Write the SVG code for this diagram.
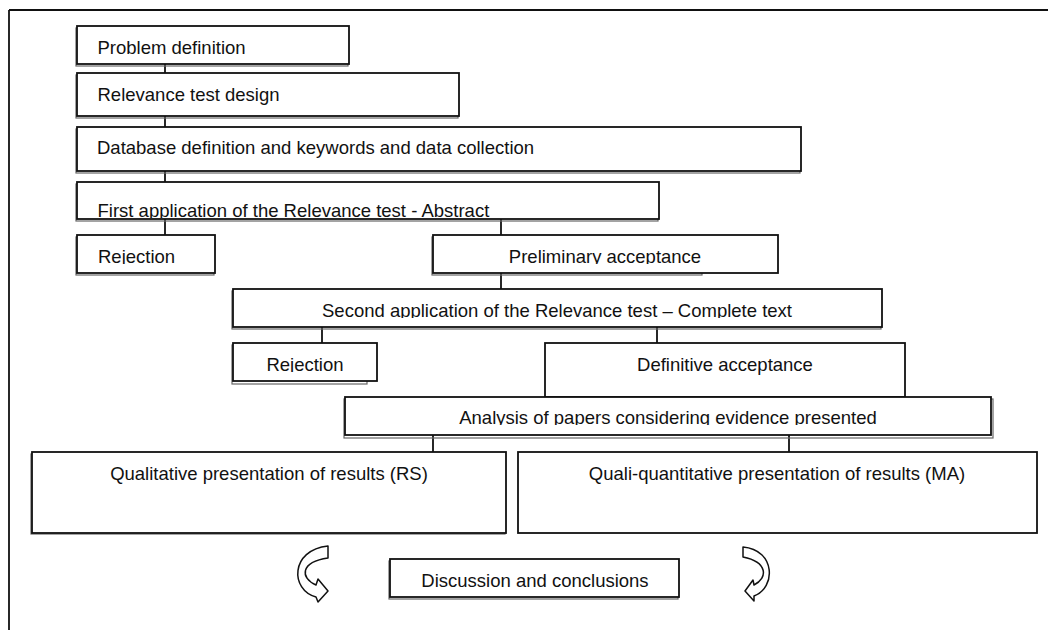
<svg xmlns="http://www.w3.org/2000/svg" width="1048" height="630" viewBox="0 0 1048 630">
<style>
.box{fill:#fff;stroke:#111;stroke-width:1.8}
.sh{fill:none;stroke:#666;stroke-width:1.2}
.t{font-family:"Liberation Sans",Arial,sans-serif;font-size:18.5px;fill:#111}
.c{text-anchor:middle}
.ln{stroke:#111;stroke-width:1.8;fill:none}
.arr{fill:#fff;stroke:#111;stroke-width:1.5;stroke-linejoin:round}
</style>
<defs>
<clipPath id="cp4"><rect x="77" y="182" width="582" height="36"/></clipPath>
<clipPath id="cpr1"><rect x="77" y="235" width="138" height="29"/></clipPath>
<clipPath id="cpp"><rect x="433" y="235" width="345" height="29"/></clipPath>
<clipPath id="cp5"><rect x="233" y="289" width="649" height="29"/></clipPath>
<clipPath id="cpr2"><rect x="233" y="343" width="144" height="29"/></clipPath>
<clipPath id="cpa"><rect x="345" y="397" width="646" height="28"/></clipPath>
</defs>
<rect width="1048" height="630" fill="#fff"/>
<g id="frame" class="ln">
<line x1="9" y1="10" x2="1048" y2="10"/>
<line x1="9" y1="10" x2="9" y2="630"/>
</g>
<g id="connectors" class="ln">
<line x1="165" y1="64" x2="165" y2="73"/>
<line x1="165" y1="116" x2="165" y2="127"/>
<line x1="165" y1="171" x2="165" y2="182"/>
<line x1="165" y1="219" x2="165" y2="235"/>
<line x1="501" y1="219" x2="501" y2="235"/>
<line x1="501" y1="273" x2="501" y2="289"/>
<line x1="322" y1="327" x2="322" y2="343"/>
<line x1="657" y1="327" x2="657" y2="343"/>
<line x1="433" y1="435" x2="433" y2="452"/>
<line x1="789" y1="435" x2="789" y2="452"/>
</g>
<g id="n1"><rect class="sh" x="76" y="28" width="272" height="38"/><rect class="box" x="77" y="26" width="272" height="38"/><text class="t" x="97.5" y="54">Problem definition</text></g>
<g id="n2"><rect class="sh" x="76" y="75" width="382" height="43"/><rect class="box" x="77" y="73" width="382" height="43"/><text class="t" x="97.5" y="101">Relevance test design</text></g>
<g id="n3"><rect class="sh" x="76" y="129" width="724" height="44"/><rect class="box" x="77" y="127" width="724" height="44"/><text class="t" x="97" y="154">Database definition and keywords and data collection</text></g>
<g id="n4"><rect class="sh" x="76" y="184" width="582" height="37"/><rect class="box" x="77" y="182" width="582" height="37"/><text class="t" x="97.5" y="217" clip-path="url(#cp4)">First application of the Relevance test - Abstract</text></g>
<g id="n5"><rect class="sh" x="76" y="237" width="138" height="38"/><rect class="box" x="77" y="235" width="138" height="38"/><text class="t" x="98" y="263" clip-path="url(#cpr1)">Rejection</text></g>
<g id="n6"><rect class="sh" x="432" y="237" width="270" height="38"/><rect class="box" x="433" y="235" width="345" height="38"/><text class="t c" x="605" y="263" clip-path="url(#cpp)">Preliminary acceptance</text></g>
<g id="n7"><rect class="sh" x="232" y="291" width="649" height="38"/><rect class="box" x="233" y="289" width="649" height="38"/><text class="t c" x="557" y="317" clip-path="url(#cp5)">Second application of the Relevance test – Complete text</text></g>
<g id="n8"><rect class="sh" x="232" y="345" width="135" height="39"/><rect class="box" x="233" y="343" width="144" height="38"/><text class="t c" x="305" y="371" clip-path="url(#cpr2)">Rejection</text></g>
<g id="n9"><rect class="box" x="545" y="343" width="360" height="54"/><text class="t c" x="725" y="371">Definitive acceptance</text></g>
<g id="n10"><rect class="sh" x="344" y="399" width="649" height="39"/><rect class="box" x="345" y="397" width="646" height="38"/><text class="t c" x="668" y="424" clip-path="url(#cpa)">Analysis of papers considering evidence presented</text></g>
<g id="n11"><rect class="sh" x="31" y="454" width="474" height="80"/><rect class="box" x="32" y="452" width="474" height="81"/><text class="t c" x="269" y="480">Qualitative presentation of results (RS)</text></g>
<g id="n12"><rect class="box" x="518" y="452" width="519" height="81"/><text class="t c" x="777" y="480">Quali-quantitative presentation of results (MA)</text></g>
<g id="n13"><rect class="sh" x="389" y="561" width="289" height="38"/><rect class="box" x="390" y="559" width="289" height="38"/><text class="t c" x="535" y="587">Discussion and conclusions</text></g>
<g id="arrows">
<path class="arr" d="M328 546 C290 550 290 590 316 597 L318 602 L328 591 L318 579 L316 585 C300 578 300 562 328 558 Z"/>
<path class="arr" d="M743 547 C776 550 776 588 754 596 L754 601 L745 591 L753 580 L754 585 C768 578 768 562 743 557 Z"/>
</g>
</svg>
